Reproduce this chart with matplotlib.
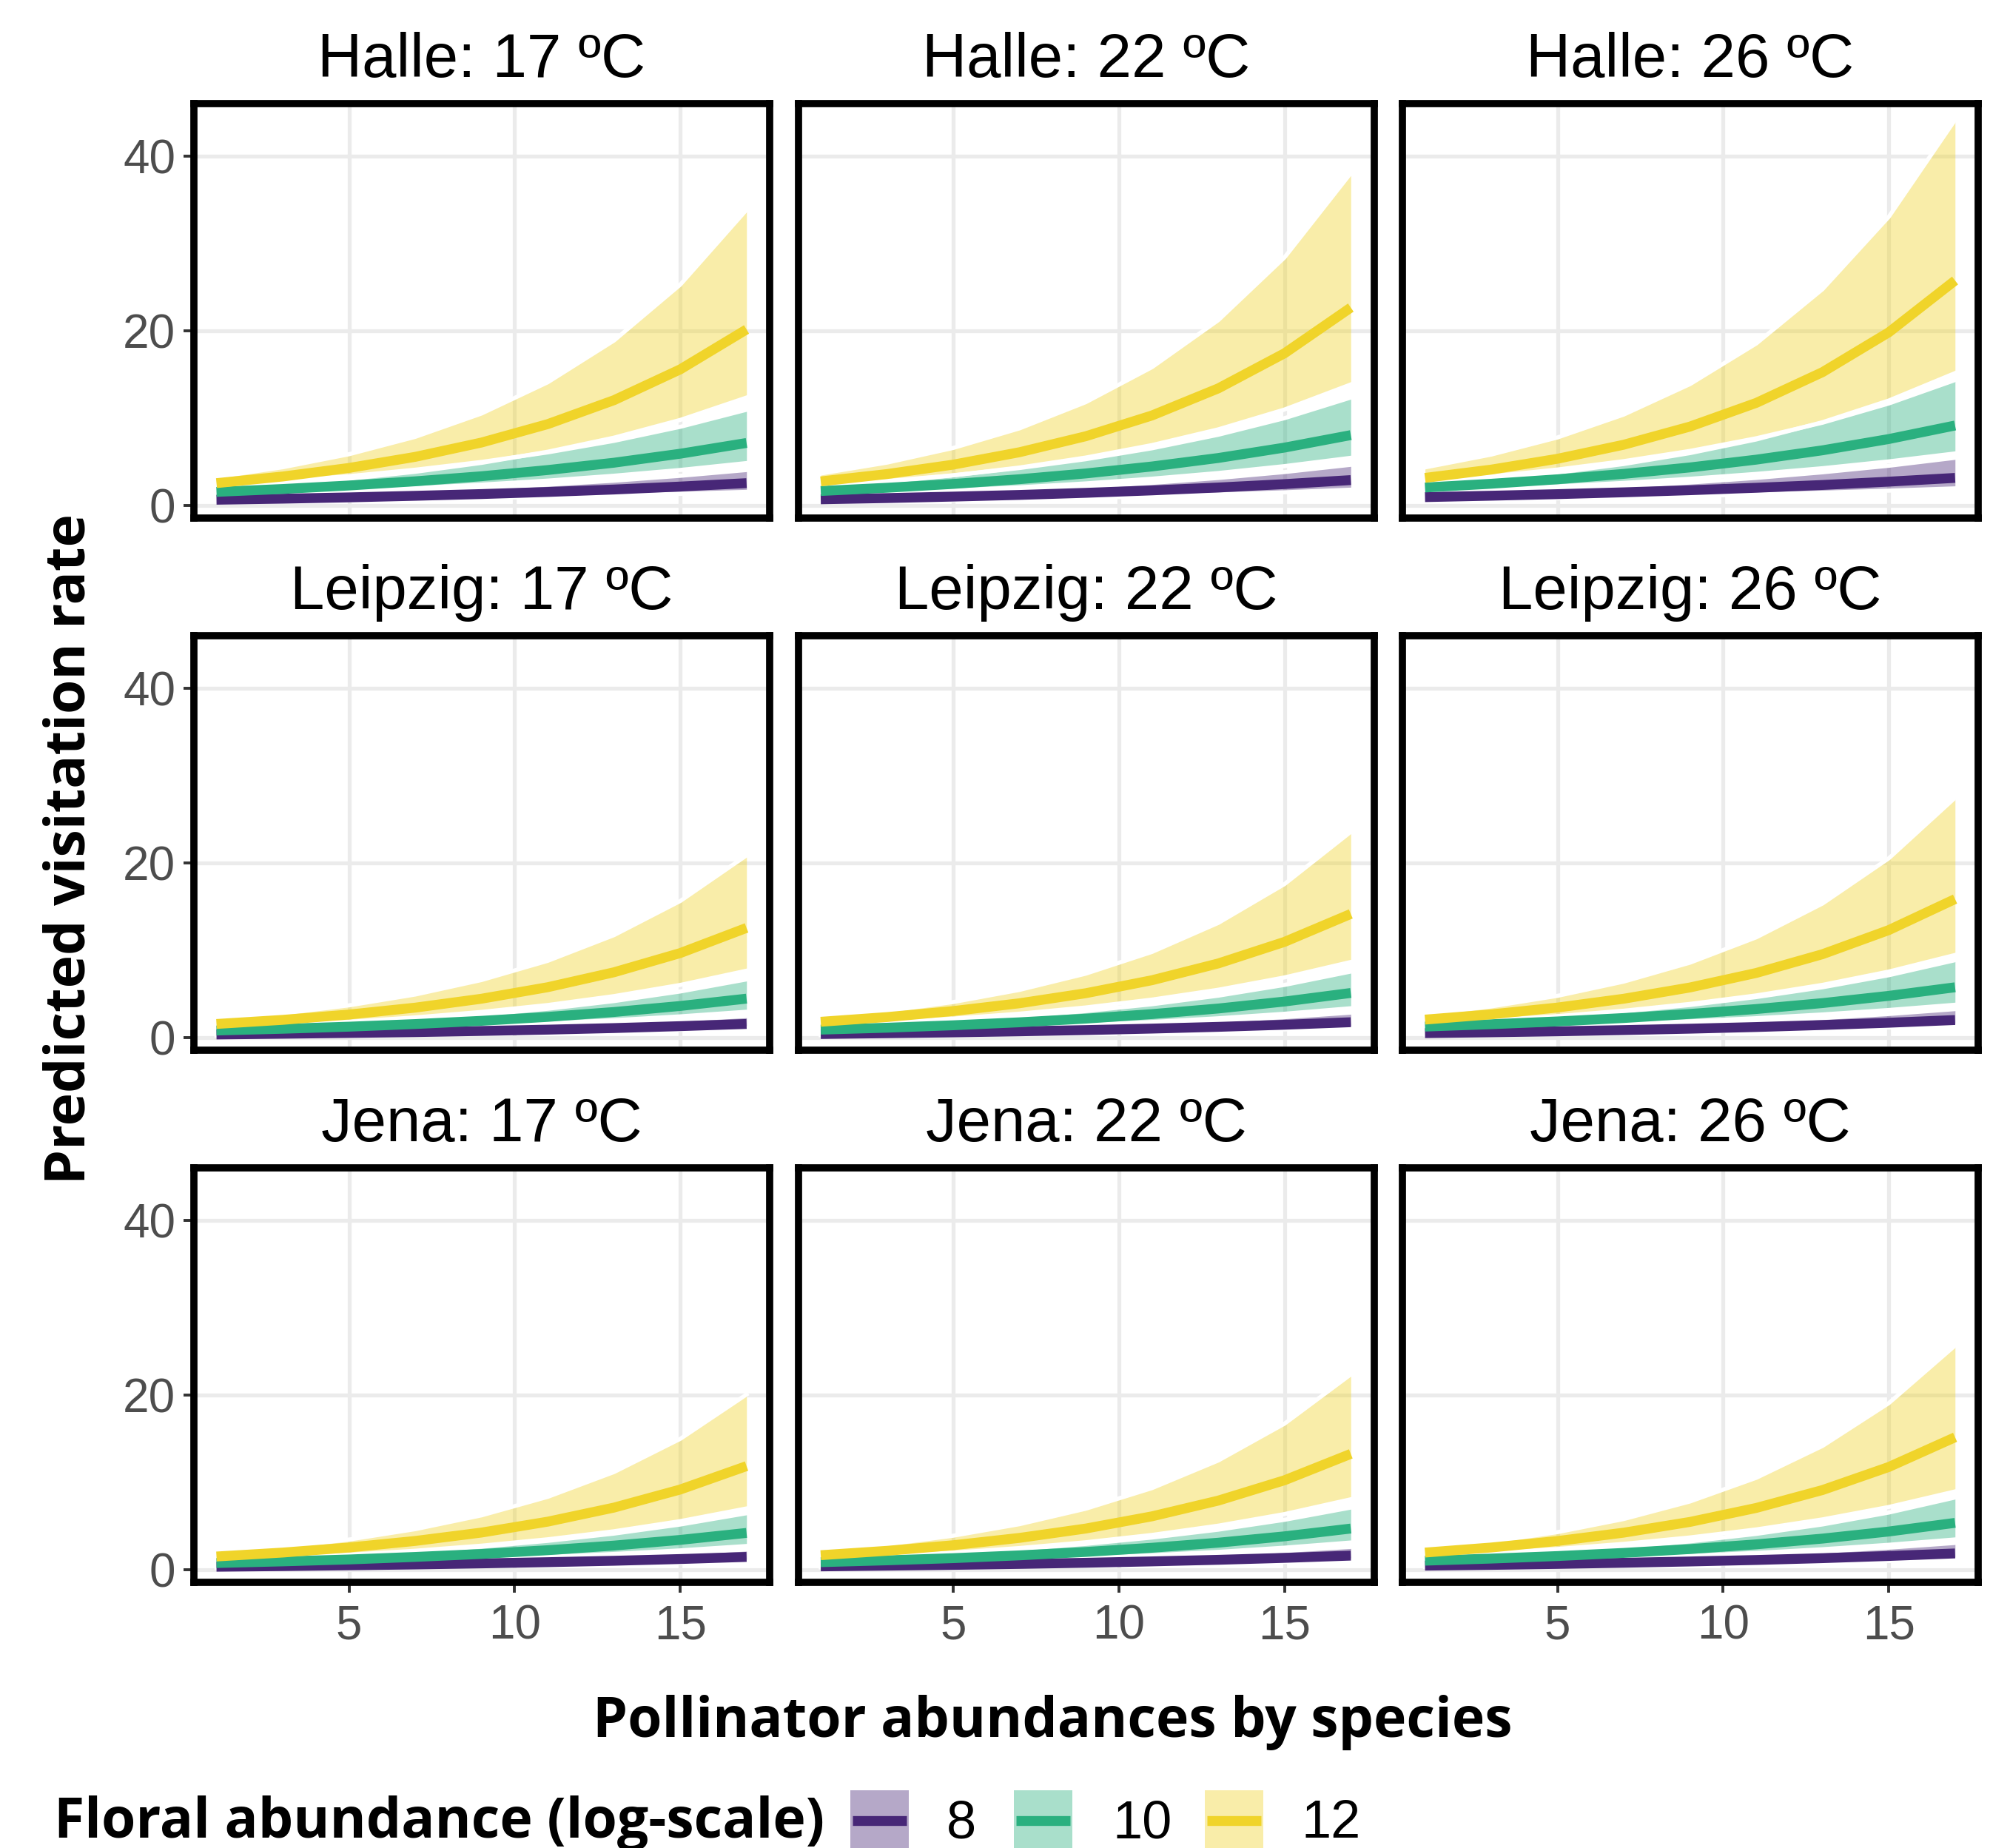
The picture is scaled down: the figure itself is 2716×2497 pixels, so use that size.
import matplotlib
matplotlib.use("Agg")
import matplotlib.pyplot as plt
from matplotlib.patches import Rectangle
from matplotlib.lines import Line2D

# pollinator abundance (x) at which the predictions were read
abund = [1, 3, 5, 7, 9, 11, 13, 15, 17]

sites = ["Halle", "Leipzig", "Jena"]
temps = [17, 22, 26]
floral = ["8", "10", "12"]

# panels in order: Halle 17/22/26, Leipzig 17/22/26, Jena 17/22/26
fit_8 = [
    [0.7, 0.82, 0.97, 1.15, 1.35, 1.59, 1.87, 2.21, 2.6],
    [0.75, 0.89, 1.06, 1.25, 1.49, 1.77, 2.10, 2.49, 2.95],
    [1.0, 1.16, 1.34, 1.55, 1.79, 2.07, 2.39, 2.77, 3.2],
    [0.4, 0.48, 0.57, 0.67, 0.80, 0.95, 1.13, 1.35, 1.6],
    [0.45, 0.54, 0.64, 0.76, 0.90, 1.07, 1.27, 1.51, 1.8],
    [0.55, 0.65, 0.76, 0.90, 1.06, 1.25, 1.48, 1.74, 2.05],
    [0.38, 0.45, 0.54, 0.64, 0.76, 0.90, 1.06, 1.26, 1.5],
    [0.42, 0.50, 0.59, 0.70, 0.83, 0.99, 1.17, 1.39, 1.65],
    [0.5, 0.59, 0.70, 0.83, 0.98, 1.15, 1.36, 1.61, 1.9],
]
lo_8 = [
    [0.5, 0.58, 0.67, 0.77, 0.89, 1.03, 1.20, 1.38, 1.6],
    [0.45, 0.54, 0.64, 0.77, 0.91, 1.09, 1.30, 1.55, 1.85],
    [0.65, 0.75, 0.86, 0.99, 1.14, 1.31, 1.51, 1.74, 2.0],
    [0.28, 0.33, 0.39, 0.47, 0.56, 0.66, 0.78, 0.93, 1.1],
    [0.32, 0.38, 0.44, 0.52, 0.61, 0.71, 0.83, 0.98, 1.15],
    [0.4, 0.47, 0.55, 0.64, 0.75, 0.88, 1.02, 1.20, 1.4],
    [0.27, 0.32, 0.37, 0.43, 0.51, 0.59, 0.69, 0.81, 0.95],
    [0.3, 0.35, 0.41, 0.49, 0.57, 0.68, 0.79, 0.93, 1.1],
    [0.36, 0.42, 0.49, 0.57, 0.66, 0.76, 0.89, 1.03, 1.2],
]
hi_8 = [
    [1.0, 1.19, 1.42, 1.70, 2.03, 2.42, 2.88, 3.44, 4.1],
    [1.0, 1.21, 1.47, 1.79, 2.17, 2.63, 3.19, 3.87, 4.7],
    [1.3, 1.56, 1.86, 2.23, 2.67, 3.20, 3.84, 4.59, 5.5],
    [0.55, 0.66, 0.80, 0.97, 1.17, 1.42, 1.71, 2.07, 2.5],
    [0.6, 0.73, 0.89, 1.08, 1.32, 1.61, 1.96, 2.38, 2.9],
    [0.75, 0.90, 1.09, 1.31, 1.57, 1.89, 2.28, 2.74, 3.3],
    [0.52, 0.63, 0.76, 0.92, 1.11, 1.33, 1.61, 1.94, 2.35],
    [0.58, 0.70, 0.85, 1.03, 1.24, 1.50, 1.81, 2.19, 2.65],
    [0.68, 0.82, 0.99, 1.20, 1.45, 1.76, 2.12, 2.56, 3.1],
]
fit_10 = [
    [1.6, 1.93, 2.33, 2.81, 3.39, 4.10, 4.94, 5.97, 7.2],
    [1.7, 2.07, 2.51, 3.05, 3.71, 4.51, 5.48, 6.67, 8.1],
    [2.1, 2.53, 3.04, 3.66, 4.40, 5.29, 6.36, 7.65, 9.2],
    [0.85, 1.05, 1.29, 1.59, 1.96, 2.41, 2.97, 3.66, 4.5],
    [0.95, 1.17, 1.45, 1.79, 2.21, 2.73, 3.37, 4.17, 5.15],
    [1.3, 1.57, 1.89, 2.28, 2.75, 3.31, 3.99, 4.82, 5.8],
    [0.8, 0.99, 1.21, 1.50, 1.84, 2.27, 2.80, 3.45, 4.25],
    [0.9, 1.11, 1.36, 1.68, 2.07, 2.55, 3.13, 3.86, 4.75],
    [1.07, 1.31, 1.60, 1.96, 2.40, 2.94, 3.60, 4.41, 5.4],
]
lo_10 = [
    [1.2, 1.43, 1.71, 2.03, 2.43, 2.89, 3.45, 4.11, 4.9],
    [1.2, 1.45, 1.76, 2.12, 2.57, 3.11, 3.76, 4.55, 5.5],
    [1.6, 1.89, 2.23, 2.63, 3.10, 3.66, 4.31, 5.09, 6.0],
    [0.63, 0.77, 0.93, 1.13, 1.37, 1.67, 2.03, 2.47, 3.0],
    [0.65, 0.80, 0.98, 1.21, 1.49, 1.83, 2.25, 2.77, 3.4],
    [0.95, 1.13, 1.34, 1.60, 1.90, 2.26, 2.69, 3.20, 3.8],
    [0.55, 0.67, 0.82, 1.01, 1.23, 1.50, 1.84, 2.25, 2.75],
    [0.6, 0.74, 0.91, 1.12, 1.37, 1.69, 2.08, 2.56, 3.15],
    [0.75, 0.91, 1.10, 1.34, 1.62, 1.96, 2.38, 2.89, 3.5],
]
hi_10 = [
    [2.3, 2.80, 3.40, 4.14, 5.03, 6.12, 7.44, 9.05, 11.0],
    [2.3, 2.84, 3.50, 4.33, 5.34, 6.59, 8.14, 10.04, 12.4],
    [2.75, 3.38, 4.16, 5.12, 6.29, 7.74, 9.52, 11.72, 14.4],
    [1.05, 1.32, 1.67, 2.10, 2.65, 3.34, 4.22, 5.32, 6.7],
    [1.25, 1.57, 1.96, 2.46, 3.08, 3.86, 4.84, 6.07, 7.6],
    [1.6, 1.98, 2.46, 3.04, 3.77, 4.68, 5.80, 7.18, 8.9],
    [1.1, 1.37, 1.71, 2.14, 2.67, 3.34, 4.17, 5.21, 6.5],
    [1.25, 1.55, 1.93, 2.40, 2.99, 3.72, 4.62, 5.75, 7.15],
    [1.3, 1.64, 2.07, 2.61, 3.28, 4.14, 5.22, 6.58, 8.3],
]
fit_12 = [
    [2.6, 3.36, 4.34, 5.61, 7.25, 9.36, 12.10, 15.63, 20.2],
    [2.8, 3.64, 4.72, 6.14, 7.97, 10.35, 13.45, 17.47, 22.7],
    [3.2, 4.15, 5.39, 7.00, 9.08, 11.79, 15.31, 19.87, 25.8],
    [1.6, 2.07, 2.68, 3.47, 4.49, 5.81, 7.52, 9.72, 12.6],
    [1.85, 2.39, 3.08, 3.97, 5.12, 6.61, 8.53, 11.00, 14.2],
    [2.1, 2.70, 3.48, 4.49, 5.78, 7.44, 9.59, 12.35, 15.9],
    [1.55, 2.00, 2.58, 3.33, 4.29, 5.54, 7.15, 9.22, 11.9],
    [1.7, 2.20, 2.84, 3.68, 4.75, 6.15, 7.95, 10.28, 13.3],
    [2.0, 2.58, 3.32, 4.28, 5.51, 7.11, 9.16, 11.80, 15.2],
]
lo_12 = [
    [1.95, 2.46, 3.10, 3.90, 4.92, 6.20, 7.81, 9.84, 12.4],
    [2.2, 2.77, 3.49, 4.39, 5.53, 6.96, 8.76, 11.03, 13.9],
    [2.4, 3.02, 3.81, 4.79, 6.04, 7.60, 9.58, 12.06, 15.2],
    [1.15, 1.46, 1.85, 2.35, 2.98, 3.77, 4.79, 6.07, 7.7],
    [1.4, 1.76, 2.21, 2.78, 3.49, 4.39, 5.52, 6.93, 8.7],
    [1.6, 2.00, 2.50, 3.12, 3.90, 4.87, 6.08, 7.60, 9.5],
    [1.1, 1.39, 1.75, 2.21, 2.79, 3.52, 4.44, 5.60, 7.05],
    [1.25, 1.58, 1.99, 2.52, 3.18, 4.02, 5.08, 6.41, 8.1],
    [1.55, 1.93, 2.41, 3.00, 3.73, 4.65, 5.80, 7.22, 9.0],
]
hi_12 = [
    [3.3, 4.42, 5.91, 7.90, 10.57, 14.15, 18.93, 25.33, 33.9],
    [3.7, 4.95, 6.63, 8.87, 11.87, 15.88, 21.26, 28.45, 38.1],
    [4.4, 5.87, 7.83, 10.45, 13.94, 18.59, 24.81, 33.10, 44.2],
    [2.1, 2.80, 3.73, 4.97, 6.63, 8.83, 11.77, 15.68, 20.9],
    [2.3, 3.08, 4.11, 5.50, 7.36, 9.85, 13.17, 17.62, 23.6],
    [2.7, 3.61, 4.82, 6.45, 8.62, 11.52, 15.39, 20.57, 27.5],
    [1.95, 2.61, 3.49, 4.68, 6.26, 8.38, 11.22, 15.02, 20.1],
    [2.2, 2.94, 3.93, 5.25, 7.02, 9.38, 12.54, 16.76, 22.4],
    [2.4, 3.23, 4.34, 5.84, 7.85, 10.56, 14.21, 19.11, 25.7],
]

colors = ["#472777", "#2AB07F", "#F0D42A"]
fits = [fit_8, fit_10, fit_12]
lows = [lo_8, lo_10, lo_12]
highs = [hi_8, hi_10, hi_12]

plt.rcParams["font.family"] = ["Liberation Sans", "DejaVu Sans"]
bold_font = "Open Sans"

fig, axes = plt.subplots(3, 3, figsize=(13.58, 12.485), dpi=200, sharex=True, sharey=True)
plt.subplots_adjust(left=0.0965, right=0.9842, top=0.9439, bottom=0.1438, wspace=0.0495, hspace=0.284)

for r in range(3):
    for c in range(3):
        ax = axes[r][c]
        p = r * 3 + c
        for k in range(3):
            ax.fill_between(abund, lows[k][p], highs[k][p], color=colors[k], alpha=0.4, lw=0, zorder=2)
            ax.plot(abund, lows[k][p], color="white", lw=2.0, zorder=2.1)
            ax.plot(abund, highs[k][p], color="white", lw=2.0, zorder=2.1)
        for k in range(3):
            ax.plot(abund, fits[k][p], color=colors[k], lw=4.8, solid_capstyle="butt", zorder=3)

        ax.set_title(f"{sites[r]}: {temps[c]} ºC", fontsize=30, pad=13)
        ax.set_xlim(0.32, 17.7)
        ax.set_ylim(-1.4, 46.05)
        ax.set_xticks([5, 10, 15])
        ax.set_yticks([0, 20, 40])
        ax.grid(True, color="#EBEBEB", lw=1.9, zorder=0)
        ax.set_axisbelow(True)
        for s in ax.spines.values():
            s.set_linewidth(3.5)
            s.set_color("black")
            s.set_zorder(5)
        ax.tick_params(axis="both", labelsize=23, labelcolor="#4D4D4D", color="#333333",
                       length=5, width=1.4, pad=4)
        ax.tick_params(axis="x", pad=5.5)
        if r < 2:
            ax.tick_params(axis="x", length=0)
        if c > 0:
            ax.tick_params(axis="y", length=0)

fig.text(0.035, 0.5407, "Predicted visitation rate", rotation=90, ha="center", va="center",
         fontsize=27, fontweight="bold", family=bold_font)
fig.text(0.5236, 0.060, "Pollinator abundances by species", ha="center", va="baseline",
         fontsize=27, fontweight="bold", family=bold_font)

# legend along the bottom edge
fig.text(0.0269, 0.0056, "Floral abundance (log-scale)", ha="left", va="baseline",
         fontsize=27, fontweight="bold", family=bold_font)
key_x = [0.4230, 0.5044, 0.5994]
lab_x = [0.4710, 0.5534, 0.6473]
for k in range(3):
    fig.add_artist(Rectangle((key_x[k], -0.05), 0.0291, 0.0812, transform=fig.transFigure,
                             facecolor=colors[k], alpha=0.4, lw=0))
    fig.add_artist(Line2D([key_x[k] + 0.0012, key_x[k] + 0.0279], [0.0148, 0.0148],
                          transform=fig.transFigure, color=colors[k], lw=4.8, solid_capstyle="butt"))
    fig.text(lab_x[k], 0.0056, floral[k], ha="left", va="baseline", fontsize=26)

plt.savefig("out.png", dpi=200)
